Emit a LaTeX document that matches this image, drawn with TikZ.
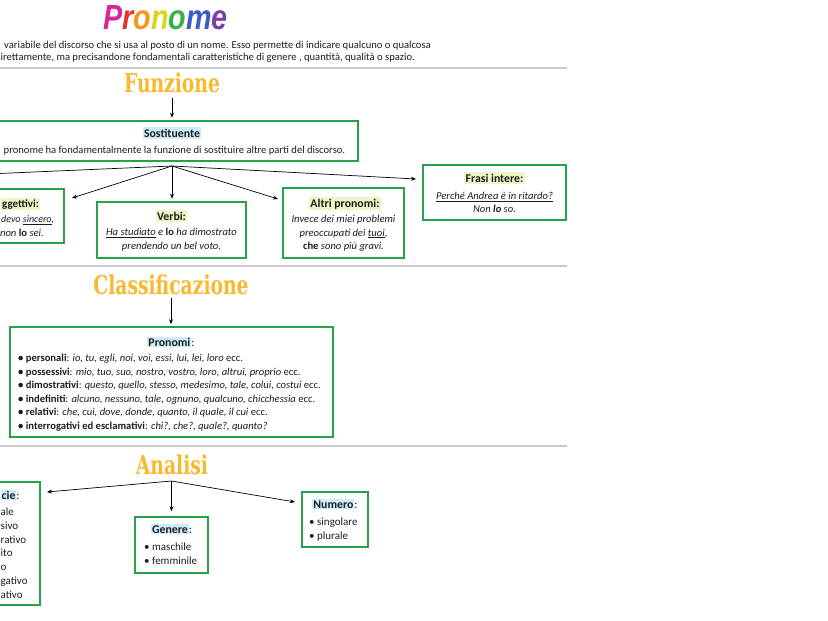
\documentclass[tikz,border=0pt]{standalone}
\usepackage{fontspec}
\setmainfont{Carlito}
\newfontfamily\titlefont{DejaVu Serif}
\newfontfamily\profont{Liberation Sans}
\usetikzlibrary{arrows.meta,calc}
\definecolor{gbox}{RGB}{38,162,72}
\definecolor{rulec}{RGB}{200,200,200}
\definecolor{hlblue}{RGB}{205,236,250}
\definecolor{hlgreen}{RGB}{236,245,198}
\definecolor{tcol}{RGB}{250,184,44}
\definecolor{txt}{RGB}{30,30,30}
\definecolor{pP}{RGB}{214,38,155}
\definecolor{pR}{RGB}{232,49,42}
\definecolor{pO}{RGB}{247,148,29}
\definecolor{pN}{RGB}{214,214,30}
\definecolor{pG}{RGB}{53,179,74}
\definecolor{pM}{RGB}{60,90,205}
\definecolor{pE}{RGB}{123,63,168}
\newcommand{\hlB}[1]{{\setlength{\fboxsep}{1pt}\colorbox{hlblue}{#1}}}
\begin{document}
\begin{tikzpicture}[x=1pt,y=-1pt,
  box/.style={draw=gbox, line width=1.6pt, inner sep=0pt, fill=white},
  tx/.style={inner sep=0pt, font=\fontsize{10.6}{12}\selectfont, text=txt},
  hd/.style={inner sep=1.5pt, font=\fontsize{11.8}{13}\selectfont\bfseries, text=txt},
  li/.style={inner sep=0pt, font=\fontsize{11}{13}\selectfont, text=txt},
  arr/.style={-{Stealth[length=5pt,width=4pt]}, line width=0.7pt},
  ln/.style={line width=0.7pt},
  ttl/.style={inner sep=0pt, text=tcol, font=\titlefont\bfseries\fontsize{26}{30}\selectfont},
  rulel/.style={draw=rulec, line width=1.8pt}]
\useasboundingbox (0,0) rectangle (828,621);
\clip (0,0) rectangle (828,621);
\fill[white] (0,0) rectangle (828,621);

% title
\node[inner sep=0pt, font=\profont\bfseries\itshape\fontsize{35}{36}\selectfont] (pron) at (165.5,17.5) {\scalebox{0.82}[1]{\color{pP}P\color{pR}r\color{pO}o\color{pN}n\color{pG}o\color{pM}m\color{pE}e}};

\node[tx, anchor=base west] (d1) at (4,48) {variabile del discorso che si usa al posto di un nome. Esso permette di indicare qualcuno o qualcosa};
\node[tx, anchor=base west] (d2) at (0.5,60.5) {irettamente, ma precisandone fondamentali caratteristiche di genere , quantità, qualità o spazio.};

\draw[rulel] (0,68) -- (567,68);
\draw[rulel] (0,266) -- (567,266);
\draw[rulel] (0,446) -- (567,446);

% Funzione
\node[ttl] (funz) at (172,83) {\scalebox{0.72}[1]{Funzione}};
\node[box, minimum width=378pt, minimum height=40pt] (sostbox) at (169,141) {};
\draw[arr] ([yshift=-5pt]funz.south) -- ([yshift=2.5pt]funz.south |- sostbox.north);
\node[hd, fill=hlblue, anchor=base] (sostt) at (172,137) {Sostituente};
\node[tx, anchor=base west] (sostl) at (3.5,153.5) {pronome ha fondamentalmente la funzione di sostituire altre parti del discorso.};

\node[box, minimum width=144pt, minimum height=54pt] (aggbox) at (-8,216) {};
\node[hd, fill=hlgreen, anchor=base west, font=\fontsize{11}{13}\selectfont\bfseries] (aggt) at (0.5,207) {ggettivi:};
\node[tx, anchor=base west, font=\fontsize{10}{12}\selectfont] (agg1) at (1,222.5) {\itshape devo \underline{sincero},};
\node[tx, anchor=base east] (agg2) at (44,236) {\itshape non {\upshape\bfseries lo} sei.};

\node[box, minimum width=149pt, minimum height=56pt] (verbibox) at (171.5,230) {};
\node[hd, fill=hlgreen, anchor=base] (verbit) at (171.5,220) {Verbi:};
\node[tx, anchor=base] (v1) at (171.5,235.5) {\itshape\underline{Ha studiato} e {\upshape\bfseries lo} ha dimostrato};
\node[tx, anchor=base] (v2) at (171.5,249.5) {\itshape prendendo un bel voto.};

\node[box, minimum width=121pt, minimum height=70pt] (altribox) at (343.5,223) {};
\node[hd, fill=hlgreen, anchor=base] (altrit) at (345,207) {Altri pronomi:};
\node[tx, anchor=base] (a1) at (343.5,222.5) {\itshape Invece dei miei problemi};
\node[tx, anchor=base] (a2) at (343.5,236) {\itshape preoccupati dei \underline{tuoi},};
\node[tx, anchor=base] (a3) at (343.5,249.5) {\itshape{\upshape\bfseries che} sono più gravi.};

\node[box, minimum width=143pt, minimum height=55pt] (frasibox) at (494.5,192.5) {};
\node[hd, fill=hlgreen, anchor=base] (frasit) at (494.5,182) {Frasi intere:};
\node[tx, anchor=base] (f1) at (494.5,199.5) {\itshape\underline{Perché Andrea è in ritardo?}};
\node[tx, anchor=base] (f2) at (494.5,212.5) {\itshape Non \textbf{lo} so.};

\coordinate (fb) at (172,166);
\coordinate (offl) at (-40,175.2);
\coordinate (aggtip) at (72,198);
\coordinate (altritip) at (278,199);
\coordinate (frasitip) at (416,179);
\draw[ln] (fb) -- (offl);
\draw[arr] (fb) -- (aggtip);
\draw[arr, shorten >=2.5pt] (fb) -- (fb |- verbibox.north);
\draw[arr] (fb) -- (altritip);
\draw[arr] (fb) -- (frasitip);

% Classificazione
\node[ttl] (clas) at (171,285) {\scalebox{0.72}[1]{Classificazione}};
\node[box, minimum width=323pt, minimum height=110pt] (pronbox) at (171.5,382) {};
\draw[arr] ([yshift=-3pt]clas.south) -- ([yshift=2pt]clas.south |- pronbox.north);
\node[hd, inner sep=0pt, anchor=base] (pront) at (171,346) {\hlB{Pronomi}{\mdseries:}};
\node[tx, anchor=base west] (p1) at (18,361.5) {\textbf{•} \textbf{personali}: \textit{io, tu, egli, noi, voi, essi, lui, lei, loro} ecc.};
\node[tx, anchor=base west] (p2) at (18,375.1) {\textbf{•} \textbf{possessivi}: \textit{mio, tuo, suo, nostro, vostro, loro, altrui, proprio} ecc.};
\node[tx, anchor=base west] (p3) at (18,388.7) {\textbf{•} \textbf{dimostrativi}: \textit{questo, quello, stesso, medesimo, tale, colui, costui} ecc.};
\node[tx, anchor=base west] (p4) at (18,402.3) {\textbf{•} \textbf{indefiniti}: \textit{alcuno, nessuno, tale, ognuno, qualcuno, chicchessia} ecc.};
\node[tx, anchor=base west] (p5) at (18,415.9) {\textbf{•} \textbf{relativi}: \textit{che, cui, dove, donde, quanto, il quale, il cui} ecc.};
\node[tx, anchor=base west] (p6) at (18,429.5) {\textbf{•} \textbf{interrogativi ed esclamativi}: \textit{chi?, che?, quale?, quanto?}};

% Analisi
\node[ttl] (anal) at (172,465) {\scalebox{0.72}[1]{Analisi}};
\node[box, minimum width=120pt, minimum height=123pt] (specbox) at (-20,543.5) {};
\node[hd, inner sep=0pt, anchor=base west] (spect) at (0.5,499) {\hlB{cie}{\mdseries:}};
\node[li, anchor=base west] (s1) at (0.5,515) {ale};
\node[li, anchor=base west] (s2) at (0.5,529) {sivo};
\node[li, anchor=base west] (s3) at (0.5,543) {rativo};
\node[li, anchor=base west] (s4) at (0.5,556) {ito};
\node[li, anchor=base west] (s5) at (0.5,570) {o};
\node[li, anchor=base west] (s6) at (0.5,584) {gativo};
\node[li, anchor=base west] (s7) at (0.5,598) {ativo};

\node[box, minimum width=73pt, minimum height=56pt] (genbox) at (171.5,545) {};
\node[hd, inner sep=0pt, anchor=base] (gent) at (171.5,533) {\hlB{Genere}{\mdseries:}};
\node[li, anchor=base west] (g1) at (144,550.5) {• maschile};
\node[li, anchor=base west] (g2) at (144,564.5) {• femminile};

\node[box, minimum width=66pt, minimum height=55pt] (numbox) at (335,519.5) {};
\node[hd, inner sep=0pt, anchor=base] (numt) at (335,508) {\hlB{Numero}{\mdseries:}};
\node[li, anchor=base west] (n1) at (309,525.5) {• singolare};
\node[li, anchor=base west] (n2) at (309,539.5) {• plurale};

\coordinate (ab) at (171.5,481);
\coordinate (spectip) at (47,492);
\coordinate (numtip) at (295,502);
\draw[arr] (ab) -- (spectip);
\draw[arr, shorten >=5pt] (ab) -- (ab |- genbox.north);
\draw[arr] (ab) -- (numtip);
\end{tikzpicture}
\end{document}
